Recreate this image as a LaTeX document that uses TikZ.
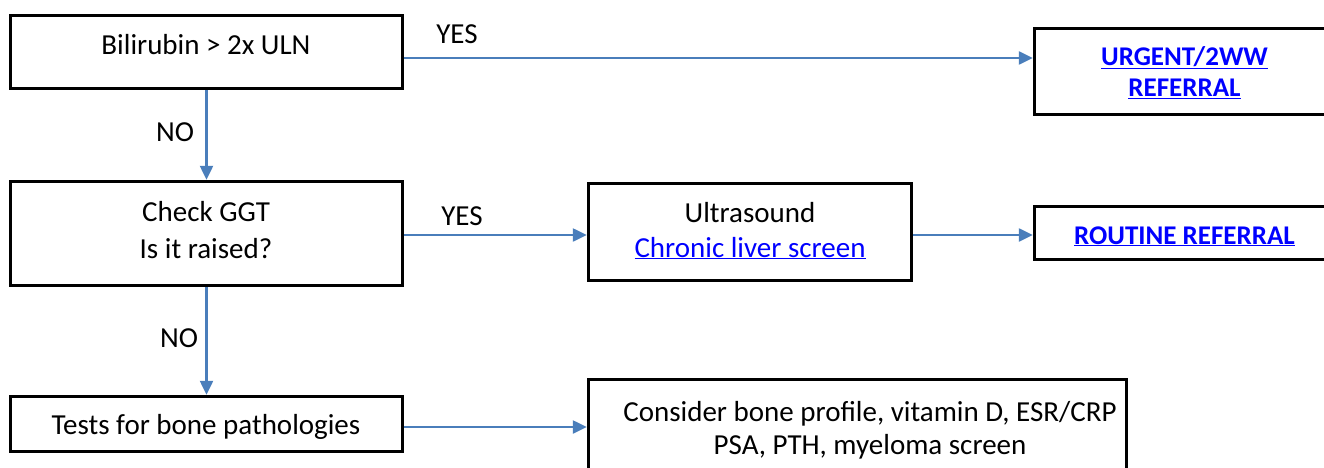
\documentclass[tikz,border=0pt]{standalone}
\usepackage{fontspec}
\setmainfont{Carlito}
\usetikzlibrary{arrows.meta}
\definecolor{arrowblue}{RGB}{74,126,187}
\definecolor{linkblue}{RGB}{0,0,255}
\newcommand{\lnk}[1]{\textcolor{linkblue}{\underline{#1}}}
\begin{document}
\begin{tikzpicture}[x=1pt,y=-1pt,
  box/.style={draw=black, line width=3.5pt, fill=white, inner sep=0pt},
  txt/.style={anchor=base, inner sep=0pt, font=\fontsize{29}{35}\selectfont},
  btxt/.style={anchor=base, inner sep=0pt, font=\fontsize{27}{32}\selectfont\bfseries},
  arr/.style={draw=arrowblue, line width=2.5pt, -{Triangle[length=14pt,width=13pt]}}]
\useasboundingbox (0,0) rectangle (1324,468);
% boxes
\node[box, minimum width=392pt, minimum height=73pt] (b1) at (206.5,52) {};
\node[box, minimum width=392pt, minimum height=104pt] (b2) at (206.5,233.5) {};
\node[box, minimum width=392pt, minimum height=55pt] (b3) at (206.5,424) {};
\node[box, minimum width=300pt, minimum height=86pt] (urg) at (1184.5,71.5) {};
\node[box, minimum width=323pt, minimum height=97pt] (us) at (750,232) {};
\node[box, minimum width=300pt, minimum height=53pt] (rout) at (1184.5,233) {};
\node[box, minimum width=538pt, minimum height=109pt] (cons) at (857.5,434) {};
% texts
\node[txt] (t1) at (206,55) {Bilirubin > 2x ULN};
\node[txt] (t2a) at (206,221) {Check GGT};
\node[txt] (t2b) at (206,258) {Is it raised?};
\node[txt] (t3) at (206,434) {Tests for bone pathologies};
\node[btxt] (tua) at (1184.5,66) {\lnk{URGENT/2WW}};
\node[btxt] (tub) at (1184.5,97) {\lnk{REFERRAL}};
\node[txt] (tsa) at (750,222) {Ultrasound};
\node[txt] (tsb) at (750,257) {\lnk{Chronic liver screen}};
\node[btxt] (tr) at (1184.5,244) {\lnk{ROUTINE REFERRAL}};
\node[txt] (tca) at (870,421) {Consider bone profile, vitamin D, ESR/CRP};
\node[txt] (tcb) at (870,454) {PSA, PTH, myeloma screen};
% labels
\node[txt] (yes1) at (457,44) {YES};
\node[txt] (yes2) at (462,225) {YES};
\node[txt] (no1) at (175,142) {NO};
\node[txt] (no2) at (179,347) {NO};
% connectors
\coordinate (c1) at ([yshift=-6pt]b1.east);
\draw[arr] (c1) -- (c1 -| urg.west);
\draw[arr] (b1.south) -- (b2.north);
\coordinate (c2) at ([yshift=-1.5pt]b2.east);
\draw[arr] (c2) -- (c2 -| us.west);
\coordinate (c3) at ([yshift=-3pt]us.east);
\draw[arr] (c3) -- (c3 -| rout.west);
\draw[arr] (b2.south) -- (b3.north);
\coordinate (c4) at ([yshift=-3pt]b3.east);
\draw[arr] (c4) -- (c4 -| cons.west);
\end{tikzpicture}
\end{document}
